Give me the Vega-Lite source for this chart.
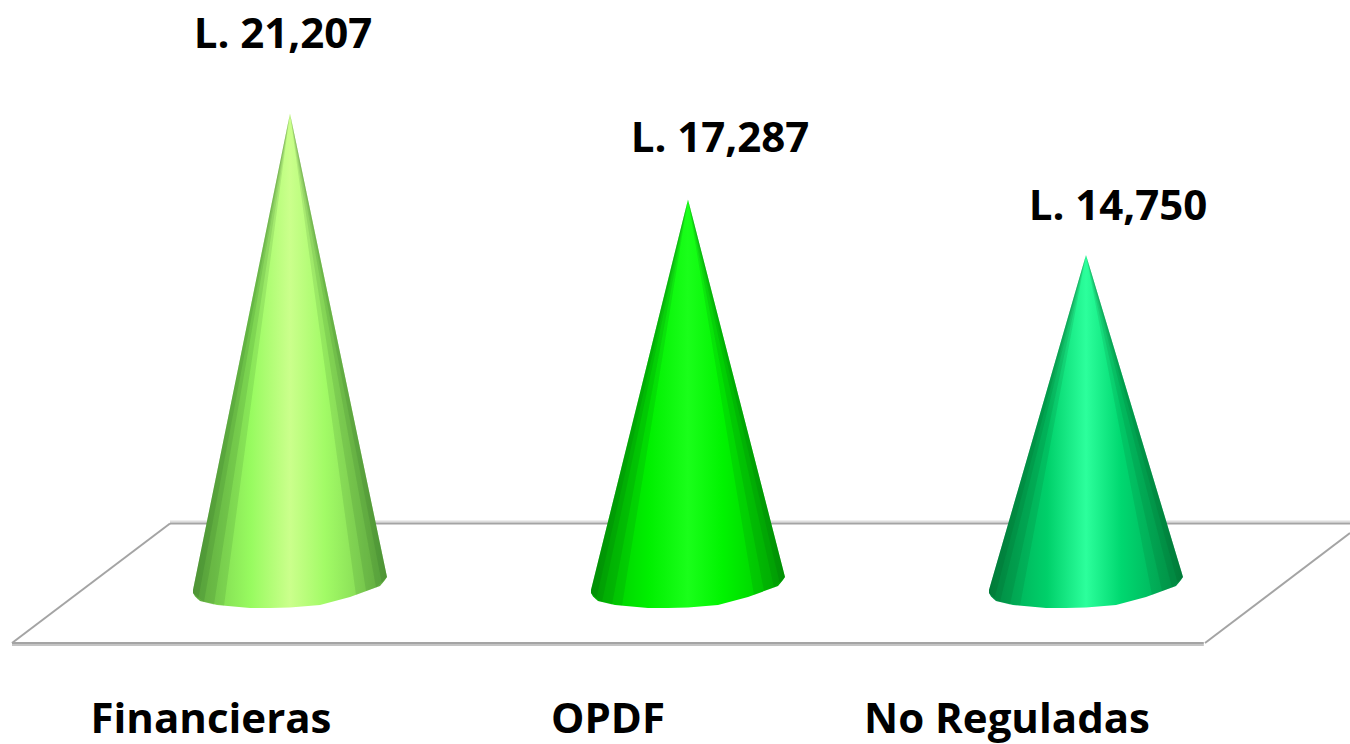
{
"$schema":"https://vega.github.io/schema/vega-lite/v6.json",
"width":1350,"height":744,"padding":0,
"autosize":"none",
"background":"white",
"config":{"view":{"stroke":null}},
"datasets":{
"conos":[
{"empresa":"Financieras","pos":-0.2437,"monto":-548,"base":-685},
{"empresa":"Financieras","pos":-0.2387,"monto":-100,"base":-850},
{"empresa":"Financieras","pos":-0.2261,"monto":1023,"base":-1050},
{"empresa":"Financieras","pos":-0.1834,"monto":4834,"base":-1233},
{"empresa":"Financieras","pos":-0.1005,"monto":12235,"base":-1370},
{"empresa":"Financieras","pos":-0.0503,"monto":16721,"base":-1370},
{"empresa":"Financieras","pos":0,"monto":21207,"base":-1347},
{"empresa":"Financieras","pos":0.0754,"monto":14662,"base":-1233},
{"empresa":"Financieras","pos":0.1508,"monto":8117,"base":-868},
{"empresa":"Financieras","pos":0.2261,"monto":1574,"base":-365},
{"empresa":"Financieras","pos":0.2387,"monto":482,"base":-91},
{"empresa":"Financieras","pos":0.2437,"monto":46,"base":46},
{"empresa":"OPDF","pos":0.7563,"monto":-548,"base":-685},
{"empresa":"OPDF","pos":0.7613,"monto":-181,"base":-850},
{"empresa":"OPDF","pos":0.7739,"monto":740,"base":-1050},
{"empresa":"OPDF","pos":0.8166,"monto":3864,"base":-1233},
{"empresa":"OPDF","pos":0.8995,"monto":9932,"base":-1370},
{"empresa":"OPDF","pos":0.9497,"monto":13609,"base":-1370},
{"empresa":"OPDF","pos":1,"monto":17287,"base":-1347},
{"empresa":"OPDF","pos":1.0754,"monto":11954,"base":-1233},
{"empresa":"OPDF","pos":1.1508,"monto":6622,"base":-868},
{"empresa":"OPDF","pos":1.2261,"monto":1291,"base":-365},
{"empresa":"OPDF","pos":1.2387,"monto":401,"base":-91},
{"empresa":"OPDF","pos":1.2437,"monto":46,"base":46},
{"empresa":"No Reguladas","pos":1.7563,"monto":-548,"base":-685},
{"empresa":"No Reguladas","pos":1.7613,"monto":-233,"base":-850},
{"empresa":"No Reguladas","pos":1.7739,"monto":557,"base":-1050},
{"empresa":"No Reguladas","pos":1.8166,"monto":3237,"base":-1233},
{"empresa":"No Reguladas","pos":1.8995,"monto":8441,"base":-1370},
{"empresa":"No Reguladas","pos":1.9497,"monto":11596,"base":-1370},
{"empresa":"No Reguladas","pos":2,"monto":14750,"base":-1347},
{"empresa":"No Reguladas","pos":2.0754,"monto":10202,"base":-1233},
{"empresa":"No Reguladas","pos":2.1508,"monto":5654,"base":-868},
{"empresa":"No Reguladas","pos":2.2261,"monto":1108,"base":-365},
{"empresa":"No Reguladas","pos":2.2387,"monto":349,"base":-91},
{"empresa":"No Reguladas","pos":2.2437,"monto":46,"base":46}
],
"sombras":[
{"grupo":"F-i-c","pos":-0.2437,"monto":-548,"base":-685},{"grupo":"F-i-c","pos":-0.2312,"monto":572,"base":-1005},{"grupo":"F-i-c","pos":0,"monto":21207,"base":21207},
{"grupo":"F-i-a","pos":-0.2437,"monto":-548,"base":-685},{"grupo":"F-i-a","pos":-0.2161,"monto":1919,"base":-1096},{"grupo":"F-i-a","pos":0,"monto":21207,"base":21207},
{"grupo":"F-i-d","pos":-0.2437,"monto":-548,"base":-685},{"grupo":"F-i-d","pos":-0.2261,"monto":1023,"base":-1050},{"grupo":"F-i-d","pos":-0.191,"monto":4162,"base":-1219},{"grupo":"F-i-d","pos":0,"monto":21207,"base":21207},
{"grupo":"F-i-b","pos":-0.2437,"monto":-548,"base":-685},{"grupo":"F-i-b","pos":-0.2261,"monto":1023,"base":-1050},{"grupo":"F-i-b","pos":-0.1658,"monto":6405,"base":-1260},{"grupo":"F-i-b","pos":0,"monto":21207,"base":21207},
{"grupo":"F-d-c","pos":0,"monto":21207,"base":21207},{"grupo":"F-d-c","pos":0.2312,"monto":1136,"base":-274},{"grupo":"F-d-c","pos":0.2437,"monto":46,"base":46},
{"grupo":"F-d-a","pos":0,"monto":21207,"base":21207},{"grupo":"F-d-a","pos":0.2161,"monto":2446,"base":-434},{"grupo":"F-d-a","pos":0.2437,"monto":46,"base":46},
{"grupo":"F-d-d","pos":0,"monto":21207,"base":21207},{"grupo":"F-d-d","pos":0.191,"monto":4627,"base":-594},{"grupo":"F-d-d","pos":0.2261,"monto":1574,"base":-365},{"grupo":"F-d-d","pos":0.2437,"monto":46,"base":46},
{"grupo":"F-d-b","pos":0,"monto":21207,"base":21207},{"grupo":"F-d-b","pos":0.1658,"monto":6809,"base":-776},{"grupo":"F-d-b","pos":0.2261,"monto":1574,"base":-365},{"grupo":"F-d-b","pos":0.2437,"monto":46,"base":46},
{"grupo":"O-i-c","pos":0.7563,"monto":-548,"base":-685},{"grupo":"O-i-c","pos":0.7688,"monto":371,"base":-1005},{"grupo":"O-i-c","pos":1,"monto":17287,"base":17287},
{"grupo":"O-i-a","pos":0.7563,"monto":-548,"base":-685},{"grupo":"O-i-a","pos":0.7839,"monto":1474,"base":-1096},{"grupo":"O-i-a","pos":1,"monto":17287,"base":17287},
{"grupo":"O-i-d","pos":0.7563,"monto":-548,"base":-685},{"grupo":"O-i-d","pos":0.7739,"monto":740,"base":-1050},{"grupo":"O-i-d","pos":0.809,"monto":3313,"base":-1219},{"grupo":"O-i-d","pos":1,"monto":17287,"base":17287},
{"grupo":"O-i-b","pos":0.7563,"monto":-548,"base":-685},{"grupo":"O-i-b","pos":0.7739,"monto":740,"base":-1050},{"grupo":"O-i-b","pos":0.8342,"monto":5152,"base":-1260},{"grupo":"O-i-b","pos":1,"monto":17287,"base":17287},
{"grupo":"O-d-c","pos":1,"monto":17287,"base":17287},{"grupo":"O-d-c","pos":1.2312,"monto":934,"base":-274},{"grupo":"O-d-c","pos":1.2437,"monto":46,"base":46},
{"grupo":"O-d-a","pos":1,"monto":17287,"base":17287},{"grupo":"O-d-a","pos":1.2161,"monto":2001,"base":-434},{"grupo":"O-d-a","pos":1.2437,"monto":46,"base":46},
{"grupo":"O-d-d","pos":1,"monto":17287,"base":17287},{"grupo":"O-d-d","pos":1.191,"monto":3779,"base":-594},{"grupo":"O-d-d","pos":1.2261,"monto":1291,"base":-365},{"grupo":"O-d-d","pos":1.2437,"monto":46,"base":46},
{"grupo":"O-d-b","pos":1,"monto":17287,"base":17287},{"grupo":"O-d-b","pos":1.1658,"monto":5556,"base":-776},{"grupo":"O-d-b","pos":1.2261,"monto":1291,"base":-365},{"grupo":"O-d-b","pos":1.2437,"monto":46,"base":46},
{"grupo":"N-i-c","pos":1.7563,"monto":-548,"base":-685},{"grupo":"N-i-c","pos":1.7688,"monto":240,"base":-1005},{"grupo":"N-i-c","pos":2,"monto":14750,"base":14750},
{"grupo":"N-i-a","pos":1.7563,"monto":-548,"base":-685},{"grupo":"N-i-a","pos":1.7839,"monto":1187,"base":-1096},{"grupo":"N-i-a","pos":2,"monto":14750,"base":14750},
{"grupo":"N-i-d","pos":1.7563,"monto":-548,"base":-685},{"grupo":"N-i-d","pos":1.7739,"monto":557,"base":-1050},{"grupo":"N-i-d","pos":1.809,"monto":2764,"base":-1219},{"grupo":"N-i-d","pos":2,"monto":14750,"base":14750},
{"grupo":"N-i-b","pos":1.7563,"monto":-548,"base":-685},{"grupo":"N-i-b","pos":1.7739,"monto":557,"base":-1050},{"grupo":"N-i-b","pos":1.8342,"monto":4341,"base":-1260},{"grupo":"N-i-b","pos":2,"monto":14750,"base":14750},
{"grupo":"N-d-c","pos":2,"monto":14750,"base":14750},{"grupo":"N-d-c","pos":2.2312,"monto":803,"base":-274},{"grupo":"N-d-c","pos":2.2437,"monto":46,"base":46},
{"grupo":"N-d-a","pos":2,"monto":14750,"base":14750},{"grupo":"N-d-a","pos":2.2161,"monto":1713,"base":-434},{"grupo":"N-d-a","pos":2.2437,"monto":46,"base":46},
{"grupo":"N-d-d","pos":2,"monto":14750,"base":14750},{"grupo":"N-d-d","pos":2.191,"monto":3229,"base":-594},{"grupo":"N-d-d","pos":2.2261,"monto":1108,"base":-365},{"grupo":"N-d-d","pos":2.2437,"monto":46,"base":46},
{"grupo":"N-d-b","pos":2,"monto":14750,"base":14750},{"grupo":"N-d-b","pos":2.1658,"monto":4745,"base":-776},{"grupo":"N-d-b","pos":2.2261,"monto":1108,"base":-365},{"grupo":"N-d-b","pos":2.2437,"monto":46,"base":46}
],
"piso":[
{"tramo":"fondo claro","trazo":"claro","pos":-0.3015,"monto":2580},
{"tramo":"fondo claro","trazo":"claro","pos":2.6633,"monto":2580},
{"tramo":"fondo","trazo":"medio","pos":-0.3015,"monto":2489},
{"tramo":"fondo","trazo":"medio","pos":2.6633,"monto":2489},
{"tramo":"frente claro","trazo":"suave","pos":-0.6985,"monto":-3059},
{"tramo":"frente claro","trazo":"suave","pos":2.296,"monto":-3059},
{"tramo":"frente","trazo":"medio","pos":-0.6985,"monto":-2968},
{"tramo":"frente","trazo":"medio","pos":2.296,"monto":-2968},
{"tramo":"izquierda","trazo":"medio","pos":-0.6985,"monto":-2968},
{"tramo":"izquierda","trazo":"medio","pos":-0.3015,"monto":2489},
{"tramo":"derecha","trazo":"medio","pos":2.299,"monto":-2968},
{"tramo":"derecha","trazo":"medio","pos":2.6633,"monto":2055}
],
"textos":[
{"etiqueta":"L. 21,207","pos":-0.0176,"monto":24201},
{"etiqueta":"L. 17,287","pos":1.0804,"monto":19452},
{"etiqueta":"L. 14,750","pos":2.0804,"monto":16347},
{"etiqueta":"Financieras","pos":-0.1985,"monto":-7100},
{"etiqueta":"OPDF","pos":0.799,"monto":-7100},
{"etiqueta":"No Reguladas","pos":1.8015,"monto":-7100}
]
},
"encoding":{
"x":{"field":"pos","type":"quantitative","axis":null,"scale":{"domain":[-0.72864,2.66332],"nice":false,"zero":false}},
"y":{"field":"monto","type":"quantitative","axis":null,"scale":{"domain":[-7580,26393],"nice":false,"zero":false}}
},
"layer":[
{"data":{"name":"piso"},"mark":{"type":"line","strokeWidth":2,"clip":false},
 "encoding":{"detail":{"field":"tramo"},"color":{"field":"trazo","type":"nominal","legend":null,"scale":{"domain":["claro","medio","suave"],"range":["#dedede","#a4a4a4","#c4c4c4"]}}}},
{"data":{"name":"conos"},"transform":[{"filter":"datum.empresa==='Financieras'"}],
 "mark":{"type":"area","interpolate":"linear","color":{"gradient":"linear","x1":0,"x2":1,"y1":0,"y2":0,"stops":[{"offset":0,"color":"#74c64a"},{"offset":0.3,"color":"#98fb60"},{"offset":0.5,"color":"#cbff8c"},{"offset":0.68,"color":"#a2fb66"},{"offset":1,"color":"#74c64a"}]}},
 "encoding":{"y2":{"field":"base"}}},
{"data":{"name":"conos"},"transform":[{"filter":"datum.empresa==='OPDF'"}],
 "mark":{"type":"area","interpolate":"linear","color":{"gradient":"linear","x1":0,"x2":1,"y1":0,"y2":0,"stops":[{"offset":0,"color":"#00c000"},{"offset":0.3,"color":"#00f000"},{"offset":0.5,"color":"#1aff1a"},{"offset":0.68,"color":"#00f400"},{"offset":1,"color":"#00c000"}]}},
 "encoding":{"y2":{"field":"base"}}},
{"data":{"name":"conos"},"transform":[{"filter":"datum.empresa==='No Reguladas'"}],
 "mark":{"type":"area","interpolate":"linear","color":{"gradient":"linear","x1":0,"x2":1,"y1":0,"y2":0,"stops":[{"offset":0,"color":"#00a050"},{"offset":0.3,"color":"#00d06a"},{"offset":0.5,"color":"#2cff9c"},{"offset":0.68,"color":"#00d870"},{"offset":1,"color":"#00a050"}]}},
 "encoding":{"y2":{"field":"base"}}},
{"data":{"name":"sombras"},"mark":{"type":"area","interpolate":"linear","color":"#063a12","opacity":0.1},
 "encoding":{"y2":{"field":"base"},"detail":{"field":"grupo"}}},
{"data":{"name":"textos"},"mark":{"type":"text","font":"Open Sans","fontWeight":"bold","fontSize":42,"align":"center","baseline":"alphabetic","color":"#000000"},
 "encoding":{"text":{"field":"etiqueta"}}}
]
}
